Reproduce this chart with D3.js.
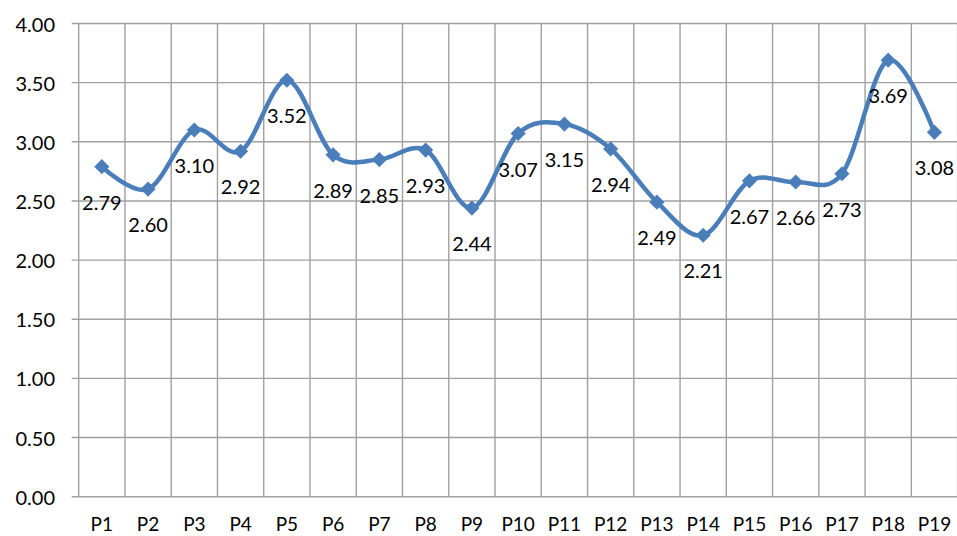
<!DOCTYPE html>
<html>
  <head>
    <meta charset="utf-8" />
    <title>P1-P19 line chart</title>
    <script src="https://d3js.org/d3.v7.min.js"></script>
    <style>
      body { margin: 0; background: #fff; }
      text { font-family: Lato, "Open Sans", sans-serif; font-size: 20px; fill: #000; }
      .grid line { stroke: #a0a0a0; stroke-width: 1.4; }
    </style>
  </head>
  <body>
    <svg id="chart" width="957" height="536"></svg>
    <script>
      // Data
      const categories = ['P1','P2','P3','P4','P5','P6','P7','P8','P9','P10',
                          'P11','P12','P13','P14','P15','P16','P17','P18','P19'];
      const values = [2.79, 2.60, 3.10, 2.92, 3.52, 2.89, 2.85, 2.93, 2.44, 3.07,
                      3.15, 2.94, 2.49, 2.21, 2.67, 2.66, 2.73, 3.69, 3.08];
      const yTicks = [0, 0.5, 1, 1.5, 2, 2.5, 3, 3.5, 4];

      const width = 957, height = 536;
      const margin = { top: 23.5, right: -0.6, bottom: 39.3, left: 78.7 };

      const svg = d3.select('#chart');

      const x = d3.scaleBand()
        .domain(categories)
        .range([margin.left, width - margin.right]);
      const y = d3.scaleLinear()
        .domain([0, 4])
        .range([height - margin.bottom, margin.top]);

      const data = categories.map((c, i) => ({ name: c, value: values[i] }));

      // Gridlines
      const grid = svg.append('g').attr('class', 'grid');
      grid.selectAll('.h').data(yTicks).enter().append('line')
        .attr('x1', margin.left - 7).attr('x2', width - margin.right)
        .attr('y1', d => y(d)).attr('y2', d => y(d));
      const bounds = categories.map(c => x(c)).concat([x.range()[1]]);
      grid.selectAll('.v').data(bounds).enter().append('line')
        .attr('x1', d => d).attr('x2', d => d)
        .attr('y1', y(4)).attr('y2', y(0));

      // Axis labels
      svg.append('g').selectAll('text').data(yTicks).enter().append('text')
        .attr('x', 55).attr('y', d => y(d))
        .attr('text-anchor', 'end').attr('dominant-baseline', 'central')
        .text(d => d.toFixed(2));
      svg.append('g').selectAll('text').data(categories).enter().append('text')
        .attr('x', d => x(d) + x.bandwidth() / 2).attr('y', 531)
        .attr('text-anchor', 'middle')
        .style('font-size', '19px')
        .text(d => d);

      const cx = d => x(d.name) + x.bandwidth() / 2;

      // Smoothed line
      const line = d3.line()
        .x(cx).y(d => y(d.value))
        .curve(d3.curveCardinal.tension(0));
      svg.append('path').datum(data)
        .attr('d', line)
        .attr('fill', 'none')
        .attr('stroke', '#4a7ebb')
        .attr('stroke-width', 4.5)
        .attr('stroke-linejoin', 'round');

      // Diamond markers
      const diamond = d3.symbol().type(d3.symbolSquare).size(115);
      svg.append('g').selectAll('path').data(data).enter().append('path')
        .attr('d', diamond)
        .attr('transform', d => `translate(${cx(d)},${y(d.value)}) rotate(45)`)
        .attr('fill', '#4a7ebb');

      // Data labels below points
      svg.append('g').selectAll('text').data(data).enter().append('text')
        .attr('x', cx).attr('y', d => y(d.value) + 35)
        .attr('text-anchor', 'middle').attr('dominant-baseline', 'central')
        .text(d => d.value.toFixed(2));
    </script>
  </body>
</html>
